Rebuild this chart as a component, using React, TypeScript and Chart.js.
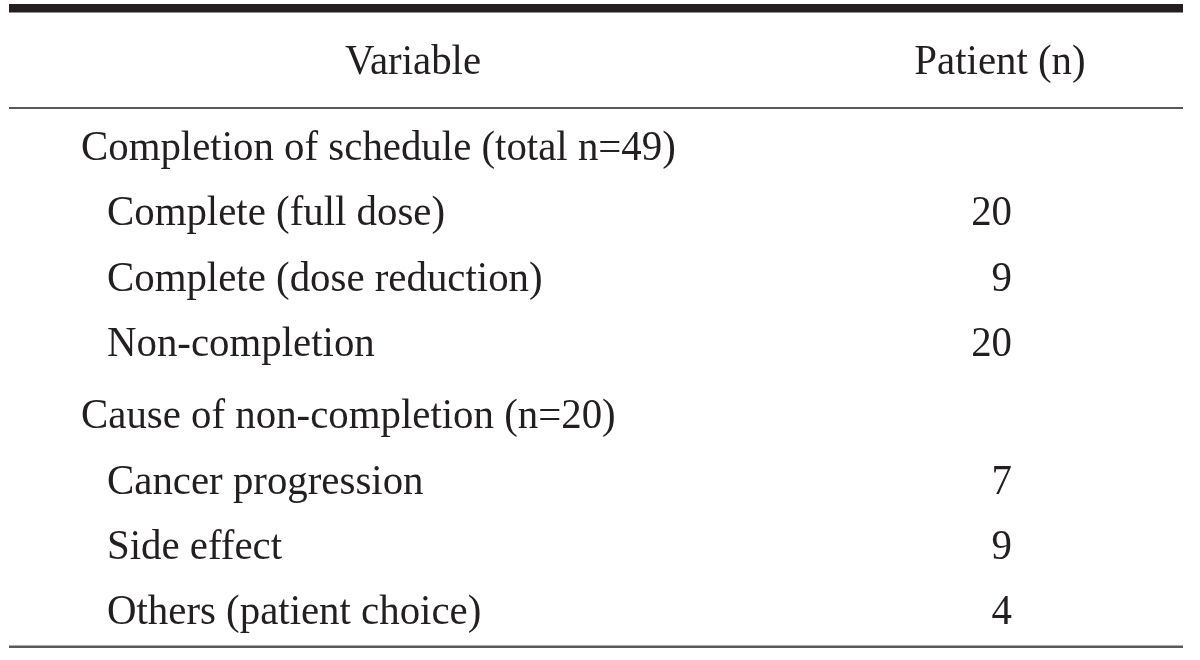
import React, { useEffect, useRef } from "react";
import { Chart, registerables } from "chart.js";

Chart.register(...registerables);

// ---- Table content (data) ----
const columnHeaders = ["Variable", "Patient (n)"];
const rowLabels = [
  "Completion of schedule (total n=49)",
  "Complete (full dose)",
  "Complete (dose reduction)",
  "Non-completion",
  "Cause of non-completion (n=20)",
  "Cancer progression",
  "Side effect",
  "Others (patient choice)",
];
const rowLevels = [0, 1, 1, 1, 0, 1, 1, 1];
const patientCounts: (number | null)[] = [null, 20, 9, 20, null, 7, 9, 4];

// ---- Layout / style constants ----
const W = 1200;
const H = 660;
const ROW_PX = 65.3; // pixels per row unit
const FIRST_ROW_BASELINE = 160;
const GROUP_GAP = 7 / ROW_PX;
const Y_MIN = -FIRST_ROW_BASELINE / ROW_PX;
const Y_MAX = Y_MIN + H / ROW_PX;
const HEADER_POS = (74 - FIRST_ROW_BASELINE) / ROW_PX;
const TOP_RULE = { pos: (4 - FIRST_ROW_BASELINE) / ROW_PX, px: 8.5 };
const MID_RULE = { pos: (107 - FIRST_ROW_BASELINE) / ROW_PX, px: 2 };
const BOT_RULE = { pos: (645.5 - FIRST_ROW_BASELINE) / ROW_PX, px: 2.5 };
const TABLE_LEFT = 9;
const TABLE_RIGHT = 1183;
const COL_X = { level0: 81, level1: 107, valueRight: 1012, header0: 413, header1: 1000 };
const FONT = '43px "Liberation Serif", "Times New Roman", serif';
const TEXT_SCALE_X = 0.95;
const TEXT_COLOR = "#231f20";
const RULE_DARK = "#231f20";
const RULE_GRAY = "#58595b";

function rowPos(i: number): number {
  let groups = -1;
  for (let k = 0; k <= i; k++) if (rowLevels[k] === 0) groups++;
  return i + Math.max(0, groups) * GROUP_GAP;
}

function drawText(ctx: CanvasRenderingContext2D, text: string, px: number, py: number) {
  ctx.save();
  ctx.translate(px, py);
  ctx.scale(TEXT_SCALE_X, 1);
  ctx.fillText(text, 0, 0);
  ctx.restore();
}

const tablePlugin = {
  id: "tableCells",
  afterDraw(chart: any) {
    const { ctx, scales } = chart;
    const x = scales.x;
    const y = scales.y;
    ctx.save();
    const xl = x.getPixelForValue(TABLE_LEFT);
    const xr = x.getPixelForValue(TABLE_RIGHT);
    // rules
    ctx.fillStyle = RULE_DARK;
    ctx.fillRect(xl, y.getPixelForValue(TOP_RULE.pos), xr - xl, TOP_RULE.px);
    ctx.fillStyle = RULE_GRAY;
    ctx.fillRect(xl, y.getPixelForValue(MID_RULE.pos), xr - xl, MID_RULE.px);
    ctx.fillRect(xl, y.getPixelForValue(BOT_RULE.pos), xr - xl, BOT_RULE.px);

    ctx.font = FONT;
    ctx.fillStyle = TEXT_COLOR;
    ctx.textBaseline = "alphabetic";
    // headers
    ctx.textAlign = "center";
    const hy = y.getPixelForValue(HEADER_POS);
    drawText(ctx, columnHeaders[0], x.getPixelForValue(COL_X.header0), hy);
    drawText(ctx, columnHeaders[1], x.getPixelForValue(COL_X.header1), hy);
    // row labels
    ctx.textAlign = "left";
    rowLabels.forEach((label, i) => {
      const px = x.getPixelForValue(rowLevels[i] === 0 ? COL_X.level0 : COL_X.level1);
      drawText(ctx, label, px, y.getPixelForValue(rowPos(i)));
    });
    // values, placed at the dataset's points
    ctx.textAlign = "right";
    const meta = chart.getDatasetMeta(0);
    meta.data.forEach((el: any, j: number) => {
      const raw = chart.data.datasets[0].data[j];
      if (raw && raw.v != null) drawText(ctx, String(raw.v), el.x, el.y);
    });
    ctx.restore();
  },
};

export default function App() {
  const ref = useRef<HTMLCanvasElement | null>(null);
  useEffect(() => {
    if (!ref.current) return;
    const points = patientCounts
      .map((v, i) => (v == null ? null : { x: COL_X.valueRight, y: rowPos(i), v }))
      .filter((p) => p != null);
    const chart = new Chart(ref.current, {
      type: "scatter",
      data: {
        datasets: [
          {
            label: columnHeaders[1],
            data: points as any,
            pointRadius: 0,
            pointHoverRadius: 0,
          },
        ],
      },
      options: {
        responsive: false,
        animation: false,
        events: [],
        layout: { padding: 0 },
        plugins: { legend: { display: false }, tooltip: { enabled: false }, title: { display: false } },
        scales: {
          x: { type: "linear", min: 0, max: W, display: false },
          y: { type: "linear", min: Y_MIN, max: Y_MAX, reverse: true, display: false },
        },
      },
      plugins: [tablePlugin],
    });
    return () => chart.destroy();
  }, []);
  return (
    <div style={{ position: "fixed", left: 0, top: 0, width: W, height: H, background: "#fff" }}>
      <canvas ref={ref} width={W} height={H} style={{ display: "block" }} />
    </div>
  );
}
